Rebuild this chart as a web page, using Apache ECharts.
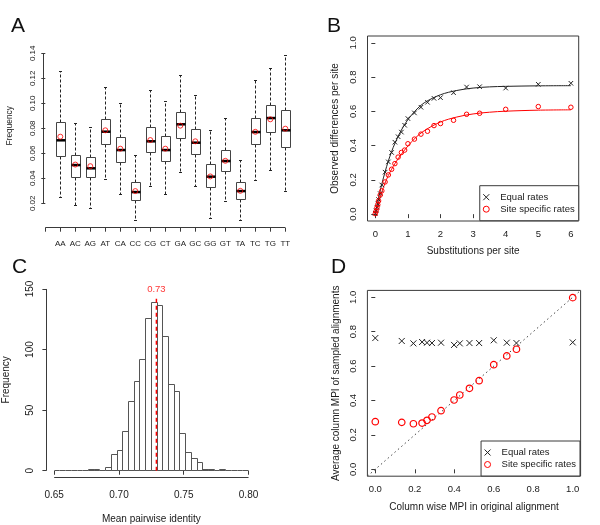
<!DOCTYPE html>
<html><head><meta charset="utf-8">
<script src="https://cdn.jsdelivr.net/npm/echarts@6/dist/echarts.min.js"></script>
<style>html,body{margin:0;padding:0;background:#fff}#c{width:600px;height:525px}</style>
</head><body><div id="c"></div>
<script>
// ---------- Panel A: dinucleotide frequencies (box plots) ----------
const dinucleotides = ['AA','AC','AG','AT','CA','CC','CG','CT','GA','GC','GG','GT','TA','TC','TG','TT'];
const boxLow  = [0.0250,0.0184,0.0162,0.0394,0.0269,0.0066,0.0338,0.0272,0.0445,0.0338,0.0082,0.0213,0.0066,0.0386,0.0466,0.0298];
const boxQ1   = [0.0578,0.0405,0.0405,0.0674,0.0528,0.0221,0.0605,0.0538,0.0720,0.0589,0.0328,0.0453,0.0232,0.0674,0.0765,0.0648];
const boxMed  = [0.0704,0.0506,0.0480,0.0773,0.0626,0.0290,0.0696,0.0626,0.0832,0.0685,0.0413,0.0538,0.0298,0.0770,0.0882,0.0784];
const boxQ3   = [0.0848,0.0580,0.0568,0.0874,0.0728,0.0368,0.0810,0.0736,0.0925,0.0789,0.0512,0.0621,0.0365,0.0880,0.0984,0.0946];
const boxHigh = [0.1256,0.0840,0.0805,0.1128,0.0997,0.0580,0.1104,0.1018,0.1226,0.1060,0.0781,0.0880,0.0544,0.1180,0.1277,0.1380];
const boxMean = [0.0733,0.0510,0.0497,0.0784,0.0637,0.0298,0.0706,0.0637,0.0821,0.0696,0.0415,0.0540,0.0300,0.0772,0.0872,0.0797];
const freqTicks = [0.02,0.04,0.06,0.08,0.10,0.12,0.14];

// ---------- Panel B: observed differences vs substitutions ----------
const substX     = [0,0.025,0.05,0.075,0.1,0.15,0.2,0.3,0.4,0.5,0.6,0.7,0.8,0.9,1.0,1.2,1.4,1.6,1.8,2.0,2.4,2.8,3.2,4,5,6];
const equalObs   = [0.005,0.02,0.04,0.06,0.085,0.12,0.17,0.245,0.305,0.36,0.42,0.452,0.479,0.519,0.558,0.591,0.624,0.653,0.676,0.680,0.709,0.742,0.744,0.736,0.758,0.764];
const siteObs    = [0.003,0.018,0.037,0.055,0.0775,0.112,0.136,0.188,0.229,0.262,0.295,0.333,0.360,0.374,0.411,0.438,0.467,0.484,0.517,0.529,0.548,0.583,0.589,0.612,0.628,0.624];
const fitX       = [0,0.1,0.2,0.3,0.4,0.5,0.6,0.8,1.0,1.25,1.5,2,2.5,3,3.5,4,5,6];
const equalFit   = [0,0.094,0.176,0.247,0.311,0.365,0.413,0.491,0.552,0.608,0.650,0.697,0.722,0.736,0.743,0.746,0.749,0.750];
const siteFit    = [0,0.070,0.130,0.182,0.226,0.262,0.295,0.350,0.398,0.449,0.487,0.538,0.567,0.585,0.595,0.601,0.607,0.609];
const bXTicks = [0,1,2,3,4,5,6];
const unitTicks = [0,0.2,0.4,0.6,0.8,1.0];

// ---------- Panel C: histogram of mean pairwise identity ----------
const histRange  = [0.65, 0.80];
const histCounts = [0,0,0,0,0,0,1,1,0,3,13,17,32,57,74,92,126,139,136,111,71,65,31,15,10,7,1,1,0,1,0,0,0,0];
const meanIdentity = 0.7289;
const meanLabel = '0.73';
const cXTicks = [0.65,0.70,0.75,0.80];
const cYTicks = [0,50,100,150];

// ---------- Panel D: column MPI ----------
const mpiOrig  = [0,0.134,0.193,0.237,0.262,0.287,0.333,0.399,0.428,0.477,0.526,0.600,0.666,0.715,1.0];
const mpiEqual = [0.763,0.746,0.732,0.740,0.736,0.734,0.736,0.723,0.732,0.734,0.734,0.750,0.736,0.734,0.738];
const mpiSite  = [0.277,0.273,0.265,0.269,0.285,0.304,0.341,0.403,0.432,0.471,0.515,0.608,0.659,0.698,0.998];

const seriesNames = ['Equal rates','Site specific rates'];

// ---------- layout ----------
const FONT = '"Liberation Sans", Arial, Helvetica, sans-serif';
const TXT = '#1a1a1a', LINE = '#3a3a3a';
const G = {
  A: {left:43.8, top:23.9, width:250.5, height:203.8, xmin:-0.1, xmax:16.6, ymin:0.0005, ymax:0.1635},
  B: {left:367.5, top:36, width:211.2, height:185, xmin:-0.24, xmax:6.24, ymin:-0.04, ymax:1.04},
  C: {left:46.4, top:281.7, width:209.9, height:197, xmin:0.644, xmax:0.806, ymin:-6, ymax:156},
  D: {left:367.4, top:290.4, width:213.2, height:185.8, xmin:-0.04, xmax:1.04, ymin:-0.04, ymax:1.04}
};
const order = ['A','B','C','D'];
const grids = order.map(k => ({left:G[k].left, top:G[k].top, width:G[k].width, height:G[k].height,
  show: (k==='B'||k==='D'), borderColor: LINE, borderWidth: 1, backgroundColor:'transparent'}));

function axis(dim, gi, g, o) {
  const isX = dim === 'x';
  return {
    type:'value', gridIndex:gi,
    min: isX ? g.xmin : g.ymin, max: isX ? g.xmax : g.ymax,
    axisLine:{show:false}, splitLine:{show:false},
    axisTick:{show:true, length:4, customValues:o.ticks, lineStyle:{color:LINE, width:1}},
    axisLabel:{show:true, customValues:o.labels || o.ticks, formatter:o.fmt, fontSize:o.fs, margin:o.margin,
      color:TXT, fontFamily:FONT, rotate: isX ? 0 : 90},
    name:o.name || '', nameLocation:'middle', nameGap:o.nameGap || 0,
    nameTextStyle:{fontSize:o.nfs || 10, color:TXT, fontFamily:FONT}
  };
}
const xAxes = [
  axis('x',0,G.A,{ticks:[0,1,2,3,4,5,6,7,8,9,10,11,12,13,14,15,16], labels:[1,2,3,4,5,6,7,8,9,10,11,12,13,14,15,16],
    fmt:v=>dinucleotides[Math.round(v)-1], fs:8, margin:12}),
  axis('x',1,G.B,{ticks:bXTicks, fmt:v=>String(Math.round(v)), fs:9.5, margin:8, name:'Substitutions per site', nameGap:25}),
  axis('x',2,G.C,{ticks:cXTicks, fmt:v=>v.toFixed(2), fs:10, margin:12, name:'Mean pairwise identity', nameGap:36}),
  axis('x',3,G.D,{ticks:unitTicks, fmt:v=>v.toFixed(1), fs:9.5, margin:8, name:'Column wise MPI in original alignment', nameGap:26})
];
const yAxes = [
  axis('y',0,G.A,{ticks:freqTicks, fmt:v=>v.toFixed(2), fs:8, margin:7, name:'Frequency', nameGap:30, nfs:8.3}),
  axis('y',1,G.B,{ticks:unitTicks, fmt:v=>v.toFixed(1), fs:9.5, margin:9, name:'Observed differences per site', nameGap:27}),
  axis('y',2,G.C,{ticks:cYTicks, fmt:v=>String(Math.round(v)), fs:10, margin:11, name:'Frequency', nameGap:35}),
  axis('y',3,G.D,{ticks:unitTicks, fmt:v=>v.toFixed(1), fs:9.5, margin:9, name:'Average column MPI of sampled alignments', nameGap:26})
];

const crisp = v => Math.round(v - 0.5) + 0.5;
function segSeries(gi, segs) {
  return {type:'custom', xAxisIndex:gi, yAxisIndex:gi, silent:true, clip:false, data:segs,
    encode:{x:[0,2], y:[1,3]},
    renderItem:(p, api) => {
      const a = api.coord([api.value(0), api.value(1)]), b = api.coord([api.value(2), api.value(3)]);
      let x1=a[0], y1=a[1], x2=b[0], y2=b[1];
      if (Math.abs(x1-x2) < 0.01) { x1 = x2 = crisp(x1); } else { y1 = y2 = crisp(y1); }
      return {type:'line', shape:{x1,y1,x2,y2}, style:{stroke:LINE, lineWidth:1}};
    }};
}

const xSym = 'path://M0,0L10,10M0,10L10,0';
function xScatter(gi, name, data, size, color) {
  return {type:'scatter', name, xAxisIndex:gi, yAxisIndex:gi, data, symbol:xSym, symbolSize:size,
    itemStyle:{color:'none', borderColor:color, borderWidth:1, opacity:1}, silent:true, z:5};
}
function oScatter(gi, name, data, size, color, bw) {
  return {type:'scatter', name, xAxisIndex:gi, yAxisIndex:gi, data, symbol:'circle', symbolSize:size,
    itemStyle:{color:'none', borderColor:color, borderWidth:bw || 1, opacity:1}, silent:true, z:6};
}

// box plot data
const boxData = dinucleotides.map((c,i) => [i+1, boxLow[i], boxQ1[i], boxMed[i], boxQ3[i], boxHigh[i]]);
const boxW = 0.57;
const boxSeries = {
  type:'custom', xAxisIndex:0, yAxisIndex:0, data:boxData, encode:{x:0, y:[1,2,3,4,5]}, silent:true,
  renderItem:(p, api) => {
    const x = api.value(0);
    const cx = crisp(api.coord([x, 0])[0]);
    const hw = api.size([boxW, 0])[0] / 2;
    const Y = v => api.coord([x, v])[1];
    const yl = crisp(Y(api.value(1))), y1 = crisp(Y(api.value(2))), ym = Y(api.value(3)), y3 = crisp(Y(api.value(4))), yh = crisp(Y(api.value(5)));
    const sw = hw * 0.35;
    const dash = {stroke:'#222', lineWidth:1, lineDash:[3,2]};
    return {type:'group', children:[
      {type:'line', shape:{x1:cx, y1:y3, x2:cx, y2:yh}, style:dash},
      {type:'line', shape:{x1:cx, y1:y1, x2:cx, y2:yl}, style:dash},
      {type:'line', shape:{x1:cx-sw, y1:yh, x2:cx+sw, y2:yh}, style:{stroke:'#222', lineWidth:1}},
      {type:'line', shape:{x1:cx-sw, y1:yl, x2:cx+sw, y2:yl}, style:{stroke:'#222', lineWidth:1}},
      {type:'rect', shape:{x:Math.round(cx-hw)+0.5, y:y3, width:Math.round(2*hw), height:y1-y3}, style:{fill:'#fff', stroke:'#444', lineWidth:1}},
      {type:'line', shape:{x1:Math.round(cx-hw)+0.5, y1:ym, x2:Math.round(cx-hw)+0.5+Math.round(2*hw), y2:ym}, style:{stroke:'#000', lineWidth:2.5}}
    ]};
  }
};

// histogram data
const binW = (histRange[1]-histRange[0]) / histCounts.length;
const histData = histCounts.map((n,j) => [histRange[0]+j*binW, histRange[0]+(j+1)*binW, n]);
const histSeries = {
  type:'custom', xAxisIndex:2, yAxisIndex:2, data:histData, encode:{x:[0,1], y:2}, silent:true,
  renderItem:(p, api) => {
    const a = api.coord([api.value(0), 0]), b = api.coord([api.value(1), api.value(2)]);
    const x0 = crisp(a[0]), x1 = crisp(b[0]), y0 = crisp(a[1]), yt = crisp(b[1]);
    if (api.value(2) === 0) return {type:'line', shape:{x1:x0, y1:y0, x2:x1, y2:y0}, style:{stroke:'#555', lineWidth:1}};
    return {type:'rect', shape:{x:x0, y:yt, width:x1-x0, height:y0-yt}, style:{fill:'none', stroke:'#555', lineWidth:1}};
  }
};

const zip = (xs, ys) => xs.map((x,i) => [x, ys[i]]);

const option = {
  animation:false,
  backgroundColor:'#fff',
  textStyle:{fontFamily:FONT},
  title: [
    {text:'A', left:11, top:16},
    {text:'B', left:327, top:16},
    {text:'C', left:12, top:257},
    {text:'D', left:331, top:257}
  ].map(t => Object.assign(t, {padding:0, textStyle:{fontSize:21, fontWeight:'normal', color:'#111', fontFamily:FONT}})),
  grid: grids,
  xAxis: xAxes,
  yAxis: yAxes,
  legend: [
    {right:21.3, bottom:304.3},
    {right:20, bottom:49}
  ].map(l => Object.assign(l, {data:seriesNames, orient:'vertical', itemWidth:18, itemHeight:6, itemGap:1,
     padding:[6,4,6,1], borderColor:LINE, borderWidth:1, borderRadius:0, backgroundColor:'#fff', selectedMode:false,
     itemStyle:{color:'none', borderWidth:1},
     textStyle:{fontSize:9.5, color:TXT, fontFamily:FONT, lineHeight:11}})),
  series: [
    boxSeries,
    {type:'scatter', name:'mean', xAxisIndex:0, yAxisIndex:0, data:boxMean.map((m,i)=>[i+1,m]), symbol:'circle', symbolSize:5,
      itemStyle:{color:'none', borderColor:'#ff0000', borderWidth:1}, silent:true, z:6},
    segSeries(0, [[0, G.A.ymin, 16, G.A.ymin], [G.A.xmin, freqTicks[0], G.A.xmin, freqTicks[freqTicks.length-1]]]),

    {type:'line', name:'equal fit', xAxisIndex:1, yAxisIndex:1, data:zip(fitX, equalFit), smooth:0.35, showSymbol:false, symbol:'none',
      lineStyle:{color:'#222', width:1}, silent:true, z:3},
    {type:'line', name:'site fit', xAxisIndex:1, yAxisIndex:1, data:zip(fitX, siteFit), smooth:0.35, showSymbol:false, symbol:'none',
      lineStyle:{color:'#ff0000', width:1}, silent:true, z:3},
    xScatter(1, seriesNames[0], zip(substX, equalObs), 4.5, '#222'),
    oScatter(1, seriesNames[1], zip(substX, siteObs), 4.5, '#ff0000'),

    histSeries,
    {type:'line', name:'mean line', xAxisIndex:2, yAxisIndex:2, data:[[meanIdentity,0],[meanIdentity,143]], symbol:'none',
      lineStyle:{color:'#ff0000', width:1.5, type:[4,3]}, silent:true, z:4},
    {type:'scatter', name:'mean label', xAxisIndex:2, yAxisIndex:2, data:[[meanIdentity,150]], symbolSize:0, silent:true,
      label:{show:true, position:'inside', formatter:meanLabel, color:'#ff0000', fontSize:9.5, fontFamily:FONT}},
    segSeries(2, [[cXTicks[0], G.C.ymin, cXTicks[cXTicks.length-1], G.C.ymin], [G.C.xmin, cYTicks[0], G.C.xmin, cYTicks[cYTicks.length-1]]]),

    {type:'line', name:'identity', xAxisIndex:3, yAxisIndex:3, data:[[G.D.xmin,G.D.ymin],[G.D.xmax,G.D.ymax]], symbol:'none',
      lineStyle:{color:'#444', width:1, type:[1.5,3]}, silent:true, z:2},
    xScatter(3, seriesNames[0], zip(mpiOrig, mpiEqual), 6, '#222'),
    oScatter(3, seriesNames[1], zip(mpiOrig, mpiSite), 6.5, '#ff0000', 1.2)
  ]
};

const chart = echarts.init(document.getElementById('c'), null, {renderer:'canvas'});
chart.setOption(option);
</script>
</body></html>
